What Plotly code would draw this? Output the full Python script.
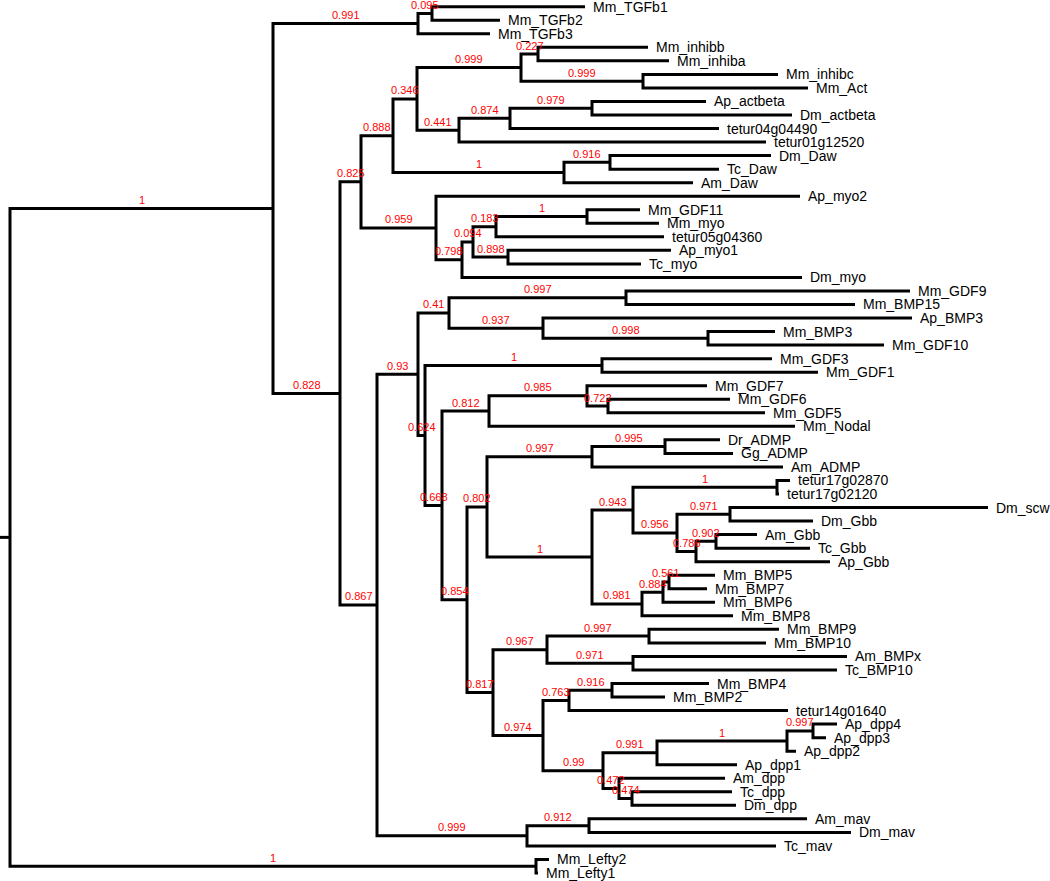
import plotly.graph_objects as go

# ---- tree data (DFS order; children listed top to bottom) ----
node_names = [
    "root",
    "A", "TG", "TG12", "Mm_TGFb1", "Mm_TGFb2", "Mm_TGFb3",
    "C", "D", "Q", "R", "S", "T", "Mm_inhibb", "Mm_inhiba",
    "INH", "Mm_inhibc", "Mm_Act",
    "U", "V", "W", "Ap_actbeta", "Dm_actbeta", "tetur04g04490", "tetur01g12520",
    "DAW", "DAW2", "Dm_Daw", "Tc_Daw", "Am_Daw",
    "M", "Ap_myo2", "N", "O", "P", "GM", "Mm_GDF11", "Mm_myo", "tetur05g04360",
    "MY1", "Ap_myo1", "Tc_myo", "Dm_myo",
    "E", "F", "G", "G9", "Mm_GDF9", "Mm_BMP15",
    "B3", "Ap_BMP3", "B3b", "Mm_BMP3", "Mm_GDF10",
    "H", "G31", "Mm_GDF3", "Mm_GDF1",
    "I", "J", "G7", "Mm_GDF7", "G65", "Mm_GDF6", "Mm_GDF5", "Mm_Nodal",
    "K", "X", "AD1", "AD2", "Dr_ADMP", "Gg_ADMP", "Am_ADMP",
    "Z", "AA", "T17", "tetur17g02870", "tetur17g02120",
    "AB", "SC", "Dm_scw", "Dm_Gbb", "AC", "AT", "Am_Gbb", "Tc_Gbb", "Ap_Gbb",
    "ADn", "AE", "AF", "Mm_BMP5", "Mm_BMP7", "Mm_BMP6", "Mm_BMP8",
    "Y", "AG", "B910", "Mm_BMP9", "Mm_BMP10", "BX", "Am_BMPx", "Tc_BMP10",
    "AH", "AI", "B42", "Mm_BMP4", "Mm_BMP2", "tetur14g01640",
    "AJ", "AK", "AL", "DP43", "Ap_dpp4", "Ap_dpp3", "Ap_dpp2", "Ap_dpp1",
    "AM", "Am_dpp", "AN", "Tc_dpp", "Dm_dpp",
    "MAV", "MV2", "Am_mav", "Dm_mav", "Tc_mav",
    "LF", "Mm_Lefty2", "Mm_Lefty1",
]

node_parents = [
    None,
    "root", "A", "TG", "TG12", "TG12", "TG",
    "A", "C", "D", "Q", "R", "S", "T", "T",
    "S", "INH", "INH",
    "R", "U", "V", "W", "W", "V", "U",
    "Q", "DAW", "DAW2", "DAW2", "DAW",
    "D", "M", "M", "N", "O", "P", "GM", "GM", "P",
    "O", "MY1", "MY1", "N",
    "C", "E", "F", "G", "G9", "G9",
    "G", "B3", "B3", "B3b", "B3b",
    "F", "H", "G31", "G31",
    "H", "I", "J", "G7", "G7", "G65", "G65", "J",
    "I", "K", "X", "AD1", "AD2", "AD2", "AD1",
    "X", "Z", "AA", "T17", "T17",
    "AA", "AB", "SC", "SC", "AB", "AC", "AT", "AT", "AC",
    "Z", "ADn", "AE", "AF", "AF", "AE", "ADn",
    "K", "Y", "AG", "B910", "B910", "AG", "BX", "BX",
    "Y", "AH", "AI", "B42", "B42", "AI",
    "AH", "AJ", "AK", "AL", "DP43", "DP43", "AL", "AK",
    "AJ", "AM", "AM", "AN", "AN",
    "E", "MAV", "MV2", "MV2", "MAV",
    "root", "LF", "LF",
]

branch_lengths = [
    0.010,
    0.263, 0.145, 0.014, 0.153, 0.068, 0.072,
    0.067, 0.021, 0.032, 0.024, 0.104, 0.017, 0.110, 0.131,
    0.122, 0.135, 0.165,
    0.042, 0.051, 0.082, 0.114, 0.200, 0.209, 0.307,
    0.171, 0.046, 0.161, 0.109, 0.129,
    0.075, 0.364, 0.026, 0.011, 0.023, 0.091, 0.053, 0.072, 0.168,
    0.035, 0.163, 0.133, 0.340,
    0.037, 0.041, 0.031, 0.177, 0.284, 0.229,
    0.094, 0.369, 0.165, 0.067, 0.176,
    0.007, 0.177, 0.170, 0.216,
    0.017, 0.047, 0.098, 0.120, 0.021, 0.122, 0.157, 0.306,
    0.025, 0.020, 0.105, 0.073, 0.055, 0.068, 0.191,
    0.105, 0.041, 0.144, 0.013, 0.002,
    0.044, 0.053, 0.258, 0.083, 0.019, 0.020, 0.041, 0.094, 0.134,
    0.050, 0.021, 0.006, 0.046, 0.038, 0.052, 0.091,
    0.026, 0.054, 0.102, 0.130, 0.117, 0.086, 0.214, 0.204,
    0.050, 0.026, 0.043, 0.097, 0.053, 0.219,
    0.060, 0.054, 0.130, 0.026, 0.024, 0.013, 0.009, 0.080,
    0.016, 0.106, 0.013, 0.100, 0.104,
    0.150, 0.062, 0.218, 0.262, 0.249,
    0.526, 0.013, 0.002,
]

support_values = [
    None,
    1, 0.991, 0.095, None, None, None,
    0.828, 0.825, 0.888, 0.346, 0.999, 0.227, None, None,
    0.999, None, None,
    0.441, 0.874, 0.979, None, None, None, None,
    1, 0.916, None, None, None,
    0.959, None, 0.798, 0.094, 0.183, 1, None, None, None,
    0.898, None, None, None,
    0.867, 0.93, 0.41, 0.997, None, None,
    0.937, None, 0.998, None, None,
    0.624, 1, None, None,
    0.668, 0.812, 0.985, None, 0.722, None, None, None,
    0.854, 0.802, 0.997, 0.995, None, None, None,
    1, 0.943, 1, None, None,
    0.956, 0.971, None, None, 0.786, 0.902, None, None, None,
    0.981, 0.884, 0.561, None, None, None, None,
    0.817, 0.967, 0.997, None, None, 0.971, None, None,
    0.974, 0.763, 0.916, None, None, None,
    0.99, 0.991, 1, 0.997, None, None, None, None,
    0.472, None, 0.474, None, None,
    0.999, 0.912, None, None, None,
    1, None, None,
]

# ---- layout computation ----
children = {n: [] for n in node_names}
for n, p in zip(node_names, node_parents):
    if p is not None:
        children[p].append(n)
blen = dict(zip(node_names, branch_lengths))
supp = dict(zip(node_names, support_values))
parent_of = dict(zip(node_names, node_parents))

xpos, ypos = {}, {}
leaf_order = []


def place(n, x0):
    x = x0 + blen[n]
    xpos[n] = x
    if not children[n]:
        ypos[n] = len(leaf_order)
        leaf_order.append(n)
    else:
        for c in children[n]:
            place(c, x)
        ypos[n] = (ypos[children[n][0]] + ypos[children[n][-1]]) / 2


place("root", 0.0)

xs, ys = [], []
# root stub
xs += [0.0, xpos["root"], None]
ys += [ypos["root"], ypos["root"], None]
for n in node_names:
    ch = children[n]
    if not ch:
        continue
    first, last = ch[0], ch[-1]
    xs += [xpos[first], xpos[n], xpos[n], xpos[last], None]
    ys += [ypos[first], ypos[first], ypos[last], ypos[last], None]
    for c in ch[1:-1]:
        xs += [xpos[n], xpos[c], None]
        ys += [ypos[c], ypos[c], None]

fig = go.Figure()
fig.add_trace(go.Scatter(
    x=xs, y=ys, mode="lines",
    line=dict(color="black", width=3),
    hoverinfo="skip", showlegend=False,
))

FONT = "Liberation Sans, Arial, Helvetica, sans-serif"
annotations = []
for n in leaf_order:
    annotations.append(dict(
        x=xpos[n], y=ypos[n], xref="x", yref="y", text=n,
        showarrow=False, xanchor="left", yanchor="middle",
        xshift=8, yshift=0, borderpad=0, borderwidth=0,
        font=dict(family=FONT, size=14, color="black"),
    ))
for n in node_names:
    s = supp[n]
    if s is None:
        continue
    p = parent_of[n]
    xm = (xpos[p] + xpos[n]) / 2
    annotations.append(dict(
        x=xm, y=ypos[n], xref="x", yref="y", text=f"{s:g}",
        showarrow=False, xanchor="center", yanchor="middle",
        yshift=8.5, borderpad=0, borderwidth=0,
        font=dict(family=FONT, size=11, color="red"),
    ))

top_px, step_px, H, W = 6.7, 13.536, 881, 1050
fig.update_layout(
    width=W, height=H,
    margin=dict(l=0, r=0, t=0, b=0),
    plot_bgcolor="white", paper_bgcolor="white",
    xaxis=dict(range=[0, W / 1000], visible=False, fixedrange=True),
    yaxis=dict(range=[(H - top_px) / step_px, -top_px / step_px],
               visible=False, fixedrange=True),
    annotations=annotations,
    showlegend=False,
)

fig.write_html("out.html", config={"displayModeBar": False},
               post_script="document.body.style.margin='0';")
